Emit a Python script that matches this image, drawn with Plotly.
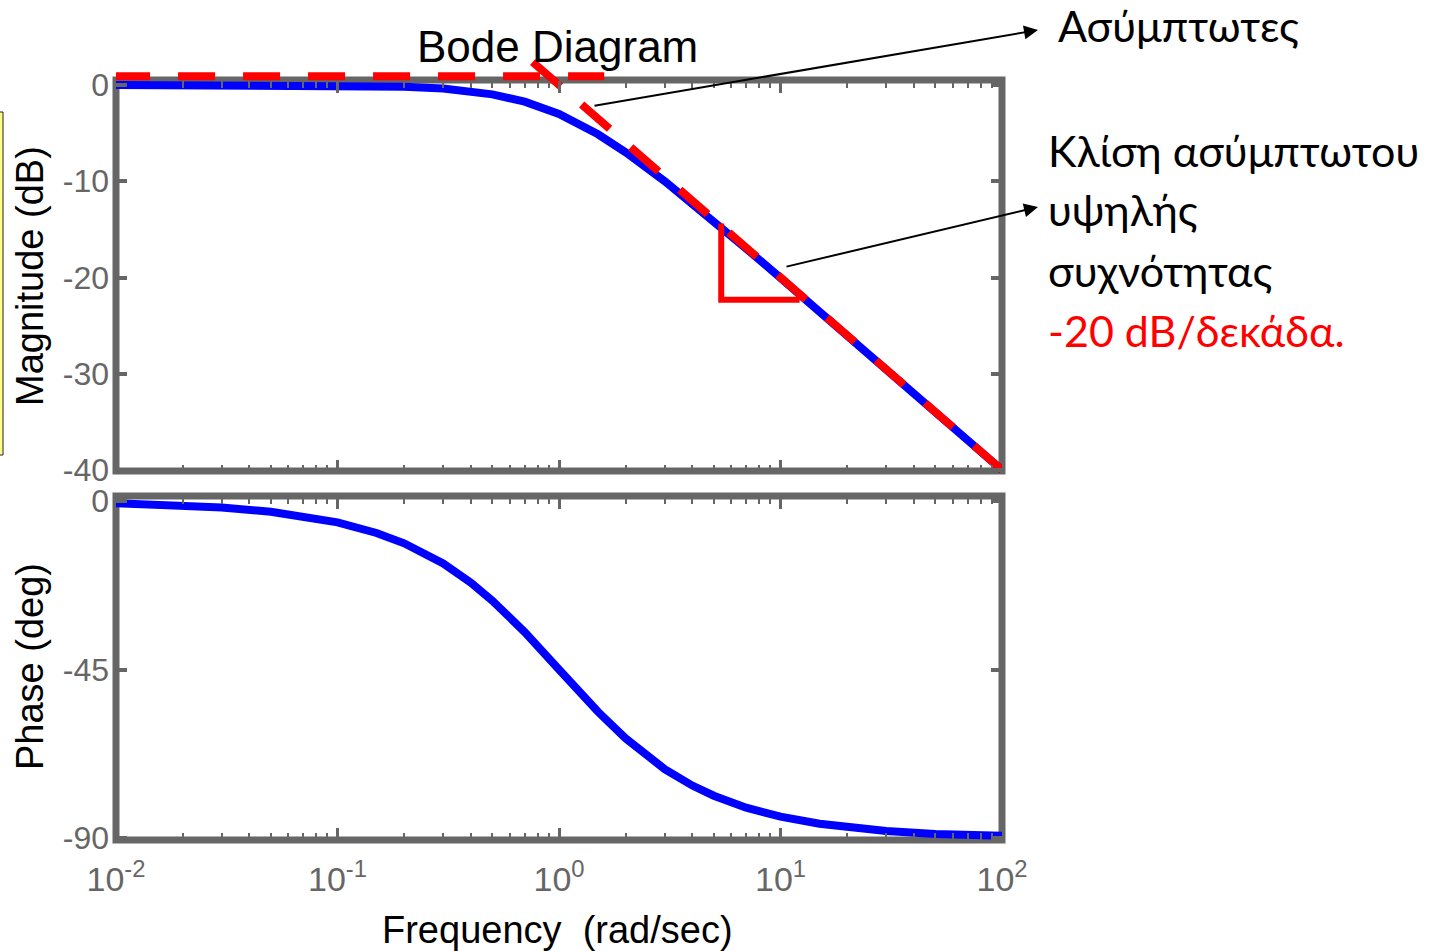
import plotly.graph_objects as go

# Frequency response of a first-order lag 1/(s+1)
freq = [0.01, 0.02, 0.03, 0.05, 0.07, 0.1, 0.15, 0.2, 0.3, 0.4, 0.5, 0.7,
        1.0, 1.5, 2.0, 3.0, 4.0, 5.0, 7.0, 10.0, 15.0, 20.0, 30.0, 50.0, 70.0, 100.0]
mag_db = [0.0, -0.002, -0.004, -0.011, -0.021, -0.043, -0.097, -0.17, -0.37, -0.65,
          -0.97, -1.73, -3.01, -5.12, -6.99, -10.0, -12.3, -14.15, -17.0, -20.04,
          -23.5, -26.0, -29.5, -34.0, -36.9, -40.0]
phase_deg = [-0.57, -1.15, -1.72, -2.86, -4.0, -5.71, -8.53, -11.3, -16.7, -21.8,
             -26.6, -35.0, -45.0, -56.3, -63.4, -71.6, -76.0, -78.7, -81.9, -84.3,
             -86.2, -87.1, -88.1, -88.9, -89.2, -89.4]

# Straight-line asymptotes (low-frequency and -20 dB/decade)
asym_low_w = [0.0097, 1.6]
asym_low_db = [0.9, 0.9]
asym_high_w = [0.76, 100.0]
asym_high_db = [2.4, -40.0]

# Slope triangle drawn under the high-frequency asymptote
tri_w = [5.4, 5.4, 12.2]
tri_db = [-14.4, -22.3, -22.3]

mag_ticks = [0, -10, -20, -30, -40]
mag_ticktext = ["0", "-10", "-20", "-30", "-40"]
phase_ticks = [0, -45, -90]
phase_ticktext = ["0", "-45", "-90"]
decade_ticks = [0.01, 0.1, 1, 10, 100]
decade_ticktext = ["10<sup>-2</sup>", "10<sup>-1</sup>", "10<sup>0</sup>",
                   "10<sup>1</sup>", "10<sup>2</sup>"]
minor_ticks = [m * 10.0 ** e for e in range(-2, 2) for m in range(2, 10)]

# ---- page geometry (pixels) ----
W, H = 1437, 951
L, R = 116, 1002
TOP, BOT = 52, 842


def px(p):
    return (p - L) / (R - L)


def py(p):
    return (BOT - p) / (BOT - TOP)


GRAY = "#666666"
FONT = "Liberation Sans, Arial, sans-serif"
GREEK = "Lato, Open Sans, Noto Sans, sans-serif"

fig = go.Figure()

fig.add_trace(go.Scatter(x=freq, y=mag_db, xaxis="x", yaxis="y", mode="lines",
                         line=dict(color="#0000ff", width=8), hoverinfo="skip"))
fig.add_trace(go.Scatter(x=asym_low_w, y=asym_low_db, xaxis="x", yaxis="y", mode="lines",
                         line=dict(color="#ff0000", width=8, dash="37px,28px"),
                         hoverinfo="skip"))
fig.add_trace(go.Scatter(x=asym_high_w, y=asym_high_db, xaxis="x", yaxis="y", mode="lines",
                         line=dict(color="#ff0000", width=8, dash="37px,28px"),
                         hoverinfo="skip"))
fig.add_trace(go.Scatter(x=tri_w, y=tri_db, xaxis="x", yaxis="y", mode="lines",
                         line=dict(color="#ff0000", width=6), hoverinfo="skip"))
fig.add_trace(go.Scatter(x=freq, y=phase_deg, xaxis="x2", yaxis="y2", mode="lines",
                         line=dict(color="#0000ff", width=8), hoverinfo="skip"))
# carriers for the top-edge tick axes
fig.add_trace(go.Scatter(x=[1], y=[None], xaxis="x3", yaxis="y", mode="lines",
                         hoverinfo="skip"))
fig.add_trace(go.Scatter(x=[1], y=[None], xaxis="x4", yaxis="y2", mode="lines",
                         hoverinfo="skip"))

mag_dom = [py(474), 1.0]
ph_dom = [0.0, py(490)]
mag_range = [-40 - (474 - 470) / 9.625, (85 - TOP) / 9.625]
ph_k = (838 - 501) / 90.0
ph_range = [-90 - (842 - 838) / ph_k, (501 - 490) / ph_k]

minor_bottom = dict(tickvals=minor_ticks, ticks="inside", ticklen=9, tickwidth=2,
                    tickcolor=GRAY, showgrid=False)
minor_top = dict(tickvals=minor_ticks, ticks="inside", ticklen=7, tickwidth=2,
                 tickcolor=GRAY, showgrid=False)

xcommon = dict(type="log", range=[-2, 2], showgrid=False, zeroline=False, showline=False,
               tickmode="array", tickvals=decade_ticks, ticks="inside", tickcolor=GRAY,
               tickwidth=3)
ycommon = dict(showgrid=False, zeroline=False, showline=False, ticks="inside",
               tickcolor=GRAY, tickwidth=4, ticklen=11, mirror="ticks",
               tickfont=dict(family=FONT, size=32, color=GRAY), ticklabelstandoff=6)

fig.update_layout(
    width=W, height=H,
    margin=dict(l=L, r=W - R, t=TOP, b=H - BOT, pad=0),
    paper_bgcolor="white", plot_bgcolor="white",
    showlegend=False,
    xaxis=dict(**xcommon, domain=[0, 1], anchor="y", ticklen=14, showticklabels=False,
               minor=minor_bottom),
    yaxis=dict(**ycommon, domain=mag_dom, anchor="x", range=mag_range,
               tickmode="array", tickvals=mag_ticks, ticktext=mag_ticktext),
    xaxis2=dict(**xcommon, domain=[0, 1], anchor="y2", ticklen=14, showticklabels=True,
                ticktext=decade_ticktext,
                tickfont=dict(family=FONT, size=34, color=GRAY), ticklabelstandoff=14,
                minor=minor_bottom),
    yaxis2=dict(**ycommon, domain=ph_dom, anchor="x2", range=ph_range,
                tickmode="array", tickvals=phase_ticks, ticktext=phase_ticktext),
    xaxis3=dict(**xcommon, overlaying="x", anchor="free", position=py(80), side="top",
                ticklen=12, showticklabels=False, minor=minor_top),
    xaxis4=dict(**xcommon, overlaying="x2", anchor="free", position=py(496), side="top",
                ticklen=12, showticklabels=False, minor=minor_top),
)

# axes frames
fig.add_shape(type="rect", xref="paper", yref="paper", layer="below",
              x0=px(L), x1=px(R), y0=py(471), y1=py(80),
              line=dict(color=GRAY, width=7), fillcolor="rgba(0,0,0,0)")
fig.add_shape(type="rect", xref="paper", yref="paper", layer="below",
              x0=px(L), x1=px(R), y0=py(840), y1=py(496),
              line=dict(color=GRAY, width=7), fillcolor="rgba(0,0,0,0)")
# edge of the highlighted box at the far left
fig.add_shape(type="rect", xref="paper", yref="paper", layer="above",
              x0=px(-12), x1=px(3), y0=py(455), y1=py(112),
              line=dict(color="#222222", width=1), fillcolor="#ffff88")

ann = []


def text(s, x, y, size, color="black", family=FONT, xanchor="center", angle=0):
    ann.append(dict(text=s, x=px(x), y=py(y), xref="paper", yref="paper",
                    showarrow=False, xanchor=xanchor, yanchor="middle", textangle=angle,
                    font=dict(family=family, size=size, color=color)))


text("Bode Diagram", 557, 47, 44)
text("Magnitude (dB)", 30, 276, 38, angle=-90)
text("Phase (deg)", 30, 667, 38, angle=-90)
text("Frequency\u00a0 (rad/sec)", 557, 930, 38)

text("Ασύμπτωτες", 1056, 25, 43, family=GREEK, xanchor="left")
text("Κλίση ασύμπτωτου", 1046, 150, 43, family=GREEK, xanchor="left")
text("υψηλής", 1046, 210, 43, family=GREEK, xanchor="left")
text("συχνότητας", 1046, 270, 43, family=GREEK, xanchor="left")
text("-20 dB/δεκάδα.", 1046, 330, 43, color="#ff0000", family=GREEK, xanchor="left")

# pointer arrows
for (hx, hy), (tx, ty) in [((1038, 30), (593, 106)), ((1038, 207), (785, 267))]:
    ann.append(dict(text="", x=px(hx), y=py(hy), xref="paper", yref="paper",
                    showarrow=True, axref="pixel", ayref="pixel",
                    ax=tx - hx, ay=ty - hy, arrowhead=2, arrowsize=1.4,
                    arrowwidth=2, arrowcolor="black", standoff=0, startstandoff=0))

fig.update_layout(annotations=ann)

fig.write_html("out.html")
